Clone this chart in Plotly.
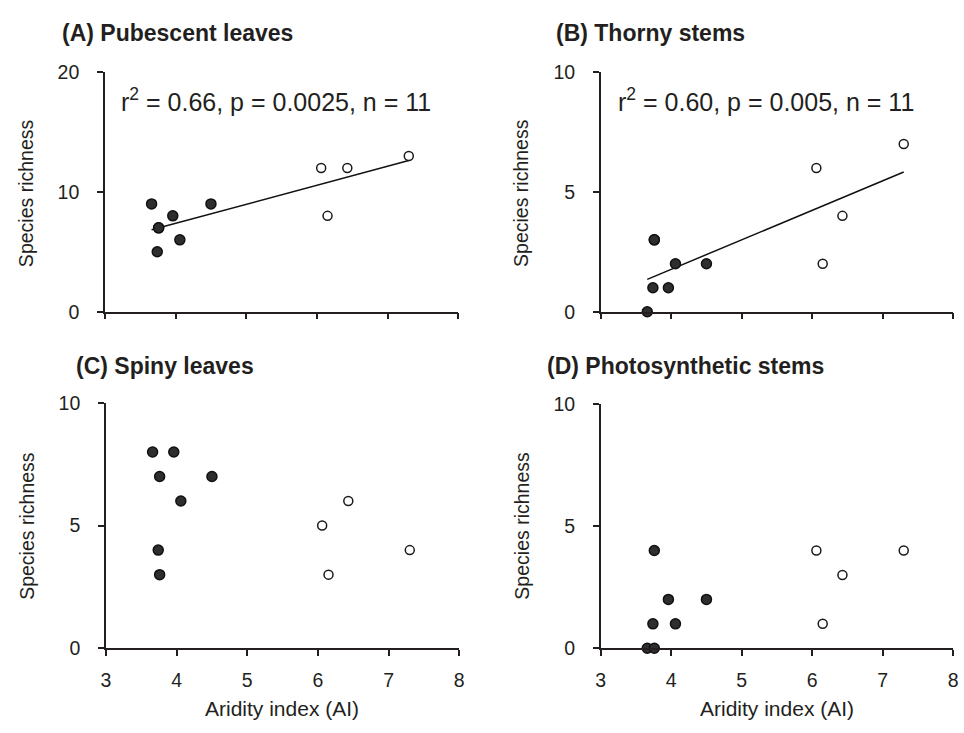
import numpy as np
import plotly.graph_objects as go

# ---- data ----
ai_dry = [3.66, 3.74, 3.76, 3.76, 3.96, 4.06, 4.50]   # filled circles
ai_wet = [6.06, 6.15, 6.43, 7.30]                     # open circles

pub_dry = [9, 5, 7, 7, 8, 6, 9]
pub_wet = [12, 8, 12, 13]
tho_dry = [0, 1, 3, 3, 1, 2, 2]
tho_wet = [6, 2, 4, 7]
spi_dry = [8, 4, 7, 3, 8, 6, 7]
spi_wet = [5, 3, 6, 4]
pho_dry = [0, 1, 0, 4, 2, 1, 2]
pho_wet = [4, 1, 3, 4]

panel_titles = ["(A) Pubescent leaves", "(B) Thorny stems", "(C) Spiny leaves", "(D) Photosynthetic stems"]
stats_text = ["r<sup>2</sup> = 0.66, p = 0.0025, n = 11", "r<sup>2</sup> = 0.60, p = 0.005, n = 11"]
x_ticks = [3, 4, 5, 6, 7, 8]
y_ticks_a = [0, 10, 20]
y_ticks_bcd = [0, 5, 10]

W, H = 964, 733
def px(x): return x / W
def py(y): return 1 - y / H

FONT = "Liberation Sans, Arial, sans-serif"
TXT = "#231f20"
AX = "#231f20"

fig = go.Figure()

panels = [
    (pub_dry, pub_wet, "x", "y", True),
    (tho_dry, tho_wet, "x2", "y2", True),
    (spi_dry, spi_wet, "x3", "y3", False),
    (pho_dry, pho_wet, "x4", "y4", False),
]

for dry, wet, xa, ya, fit in panels:
    if fit:
        xs = np.array(ai_dry + ai_wet, dtype=float)
        ys = np.array(dry + wet, dtype=float)
        m, b = np.polyfit(xs, ys, 1)
        xl = np.array([xs.min(), xs.max()])
        fig.add_trace(go.Scatter(x=xl, y=m * xl + b, mode="lines",
                                 line=dict(color="#111111", width=1.5),
                                 xaxis=xa, yaxis=ya, showlegend=False, hoverinfo="skip"))
    fig.add_trace(go.Scatter(x=ai_dry, y=dry, mode="markers", cliponaxis=False,
                             marker=dict(size=10, color="#2e2e2e", line=dict(color="#111111", width=1.5)),
                             xaxis=xa, yaxis=ya, showlegend=False))
    fig.add_trace(go.Scatter(x=ai_wet, y=wet, mode="markers", cliponaxis=False,
                             marker=dict(size=9, color="white", line=dict(color="#1a1a1a", width=1.5)),
                             xaxis=xa, yaxis=ya, showlegend=False))

def xaxis(dom, labels):
    return dict(domain=dom, range=[3, 8], tickvals=x_ticks, showticklabels=labels,
                showline=True, linecolor=AX, linewidth=1.5, ticks="outside", ticklen=6,
                tickwidth=1.5, tickcolor=AX, showgrid=False, zeroline=False,
                tickfont=dict(family=FONT, size=19.5, color=TXT), ticklabelstandoff=8)

def yaxis(dom, rng, vals):
    return dict(domain=dom, range=rng, tickvals=vals, showline=True, linecolor=AX, linewidth=1.5,
                ticks="outside", ticklen=6, tickwidth=1.5, tickcolor=AX, showgrid=False,
                zeroline=False, tickfont=dict(family=FONT, size=19.5, color=TXT), ticklabelstandoff=14)

fig.update_layout(
    width=W, height=H, margin=dict(l=0, r=0, t=0, b=0),
    paper_bgcolor="white", plot_bgcolor="white",
    xaxis=xaxis([px(101), px(458)], False),
    yaxis=yaxis([py(310), py(63)], [0, 20], y_ticks_a),
    xaxis2=xaxis([px(602), px(958)], False),
    yaxis2=yaxis([py(310), py(63)], [0, 10], y_ticks_bcd),
    xaxis3=xaxis([px(102), px(459)], True),
    yaxis3=yaxis([py(657), py(404)], [0, 10], y_ticks_bcd),
    xaxis4=xaxis([px(602), px(958)], True),
    yaxis4=yaxis([py(657), py(405)], [0, 10], y_ticks_bcd),
)
fig.update_layout(xaxis2_anchor="y2", yaxis2_anchor="x2", xaxis3_anchor="y3", yaxis3_anchor="x3",
                  xaxis4_anchor="y4", yaxis4_anchor="x4")

ann = []
# panel titles
for t, (x0, yc) in zip(panel_titles, [(56, 23), (555, 23), (70, 366), (546, 366)]):
    ann.append(dict(text="<b>%s</b>" % t, x=px(x0), y=py(yc), xref="paper", yref="paper",
                    xanchor="left", yanchor="middle", showarrow=False,
                    font=dict(family=FONT, size=23, color=TXT)))
# stats
for t, x0 in zip(stats_text, [115, 617]):
    ann.append(dict(text=t, x=px(x0), y=py(92), xref="paper", yref="paper",
                    xanchor="left", yanchor="middle", showarrow=False,
                    font=dict(family=FONT, size=25, color=TXT)))
# y titles
for x0, yc in [(22, 188), (522, 188), (22, 531), (522, 531)]:
    ann.append(dict(text="Species richness", x=px(x0), y=py(yc), xref="paper", yref="paper",
                    xanchor="center", yanchor="middle", textangle=-90, showarrow=False,
                    font=dict(family=FONT, size=19.5, color=TXT)))
# x titles
for xc in [280, 780]:
    ann.append(dict(text="Aridity index (AI)", x=px(xc), y=py(719), xref="paper", yref="paper",
                    xanchor="center", yanchor="middle", showarrow=False,
                    font=dict(family=FONT, size=21, color=TXT)))
fig.update_layout(annotations=ann)

fig.write_html("out.html")
